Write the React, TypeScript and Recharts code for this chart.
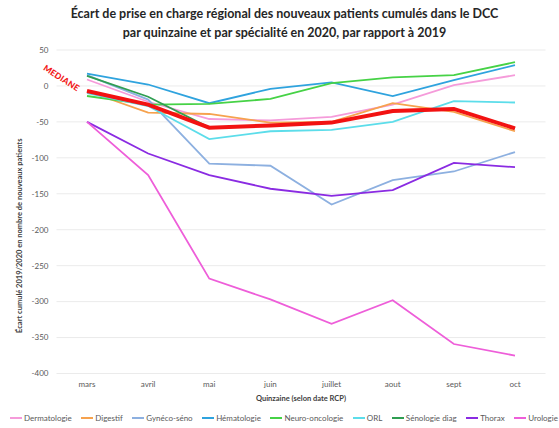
import React from 'react';
import { LineChart, Line, XAxis, YAxis, CartesianGrid, Legend } from 'recharts';

const months = ['mars', 'avril', 'mai', 'juin', 'juillet', 'aout', 'sept', 'oct'];

const dermatologie = [9, -22, -46, -48, -43, -26, 1, 15];
const digestif = [-7, -37, -39, -51, -50, -24, -36, -63];
const gynecoSeno = [15, -19, -108, -111, -165, -131, -119, -92];
const hematologie = [17, 2, -24, -4, 5, -14, 8, 29];
const neuroOncologie = [-14, -26, -25, -18, 4, 12, 15, 33];
const orl = [-10, -28, -74, -63, -61, -50, -21, -23];
const senologieDiag = [14, -15, -58, -55, -51, -35, -32, -59];
const thorax = [-50, -94, -124, -143, -153, -145, -107, -113];
const urologie = [-50, -124, -268, -297, -331, -298, -359, -375];
const mediane = [-7, -26, -58, -55, -51, -35, -32, -59];

const yTicks = [50, 0, -50, -100, -150, -200, -250, -300, -350, -400];

const SERIES = [
  { key: 'Dermatologie', values: dermatologie, color: '#F59BDA' },
  { key: 'Digestif', values: digestif, color: '#F6A24E' },
  { key: 'Gynéco-séno', values: gynecoSeno, color: '#8DB0E0' },
  { key: 'Hématologie', values: hematologie, color: '#2FA3DE' },
  { key: 'Neuro-oncologie', values: neuroOncologie, color: '#46D246' },
  { key: 'ORL', values: orl, color: '#5CDDEA' },
  { key: 'Sénologie diag', values: senologieDiag, color: '#2F9E52' },
  { key: 'Thorax', values: thorax, color: '#8A2BE2' },
  { key: 'Urologie', values: urologie, color: '#EE5ED9' },
];

const data = months.map((m, i) => {
  const row: Record<string, string | number> = { month: m, MEDIANE: mediane[i] };
  SERIES.forEach(s => {
    row[s.key] = s.values[i];
  });
  return row;
});

const FONT = 'Lato, "Liberation Sans", Arial, sans-serif';
const TICK = { fontSize: 8, fill: '#595959', fontFamily: FONT };

// legend drawn as a spread row, like the office export
const renderLegend = (props: any) => {
  const items = (props.payload || []).filter((p: any) => p.value !== 'MEDIANE');
  return (
    <div style={{ display: 'flex', justifyContent: 'space-between', alignItems: 'center', height: 16, fontFamily: FONT, fontSize: 8, color: '#595959' }}>
      {items.map((p: any) => (
        <div key={p.value} style={{ display: 'flex', alignItems: 'center', whiteSpace: 'nowrap' }}>
          <span style={{ display: 'inline-block', width: 12, height: 0, borderTop: `2px solid ${p.color}`, marginRight: 2 }} />
          <span>{p.value}</span>
        </div>
      ))}
    </div>
  );
};

const YTitle = (props: any) => {
  const vb = props.viewBox || {};
  const x = (vb.x || 0) + 19;
  const y = (vb.y || 0) + vb.height / 2 + 24;
  return (
    <text x={x} y={y} transform={`rotate(-90, ${x}, ${y})`} textAnchor="middle" dominantBaseline="central"
      style={{ fontSize: 7.5, fontWeight: 700, fill: '#404040', fontFamily: FONT }}>
      Écart cumulé 2019/2020 en nombre de nouveaux patients
    </text>
  );
};

const App: React.FC = () => {
  return (
    <div style={{ position: 'absolute', left: 0, top: 0, width: 559, height: 428, background: '#fff', fontFamily: FONT }}>
      <div style={{ position: 'absolute', top: 4, left: 0, width: 569, textAlign: 'center', fontSize: 12.5, fontWeight: 700, lineHeight: '19px', color: '#262626' }}>
        Écart de prise en charge régional des nouveaux patients cumulés dans le DCC<br />
        par quinzaine et par spécialité en 2020, par rapport à 2019
      </div>

      <div style={{ position: 'absolute', left: 0, top: 0 }}>
        <LineChart width={559} height={428} data={data} margin={{ top: 50, right: 13.5, bottom: 2, left: 0 }}>
          <CartesianGrid horizontal vertical={false} stroke="#EBEBEB" />
          <XAxis
            dataKey="month"
            padding={{ left: 30.5, right: 30.5 }}
            axisLine={false}
            tickLine={false}
            tick={TICK}
            height={36.5}
            interval={0}
            label={{ value: 'Quinzaine (selon date RCP)', position: 'insideBottom', offset: 9, style: { fontSize: 7.5, fontWeight: 700, fill: '#404040', fontFamily: FONT } }}
          />
          <YAxis
            width={56.5}
            domain={[-400, 50]}
            ticks={yTicks}
            interval={0}
            axisLine={false}
            tickLine={false}
            tick={TICK}
            label={<YTitle />}
          />
          {SERIES.map(s => (
            <Line key={s.key} type="linear" dataKey={s.key} stroke={s.color} strokeWidth={1.8} dot={false} isAnimationActive={false} />
          ))}
          <Line type="linear" dataKey="MEDIANE" stroke="#F21212" strokeWidth={4} dot={false} legendType="none" isAnimationActive={false} />
          <Legend verticalAlign="bottom" height={16} content={renderLegend} wrapperStyle={{ left: 10, width: 548 }} />
        </LineChart>
      </div>

      <div style={{ position: 'absolute', left: 41, top: 73, transform: 'rotate(33deg)', transformOrigin: 'center', color: '#F21818', fontSize: 8.5, fontWeight: 900, letterSpacing: 0.2 }}>
        MEDIANE
      </div>
    </div>
  );
};

export default App;
